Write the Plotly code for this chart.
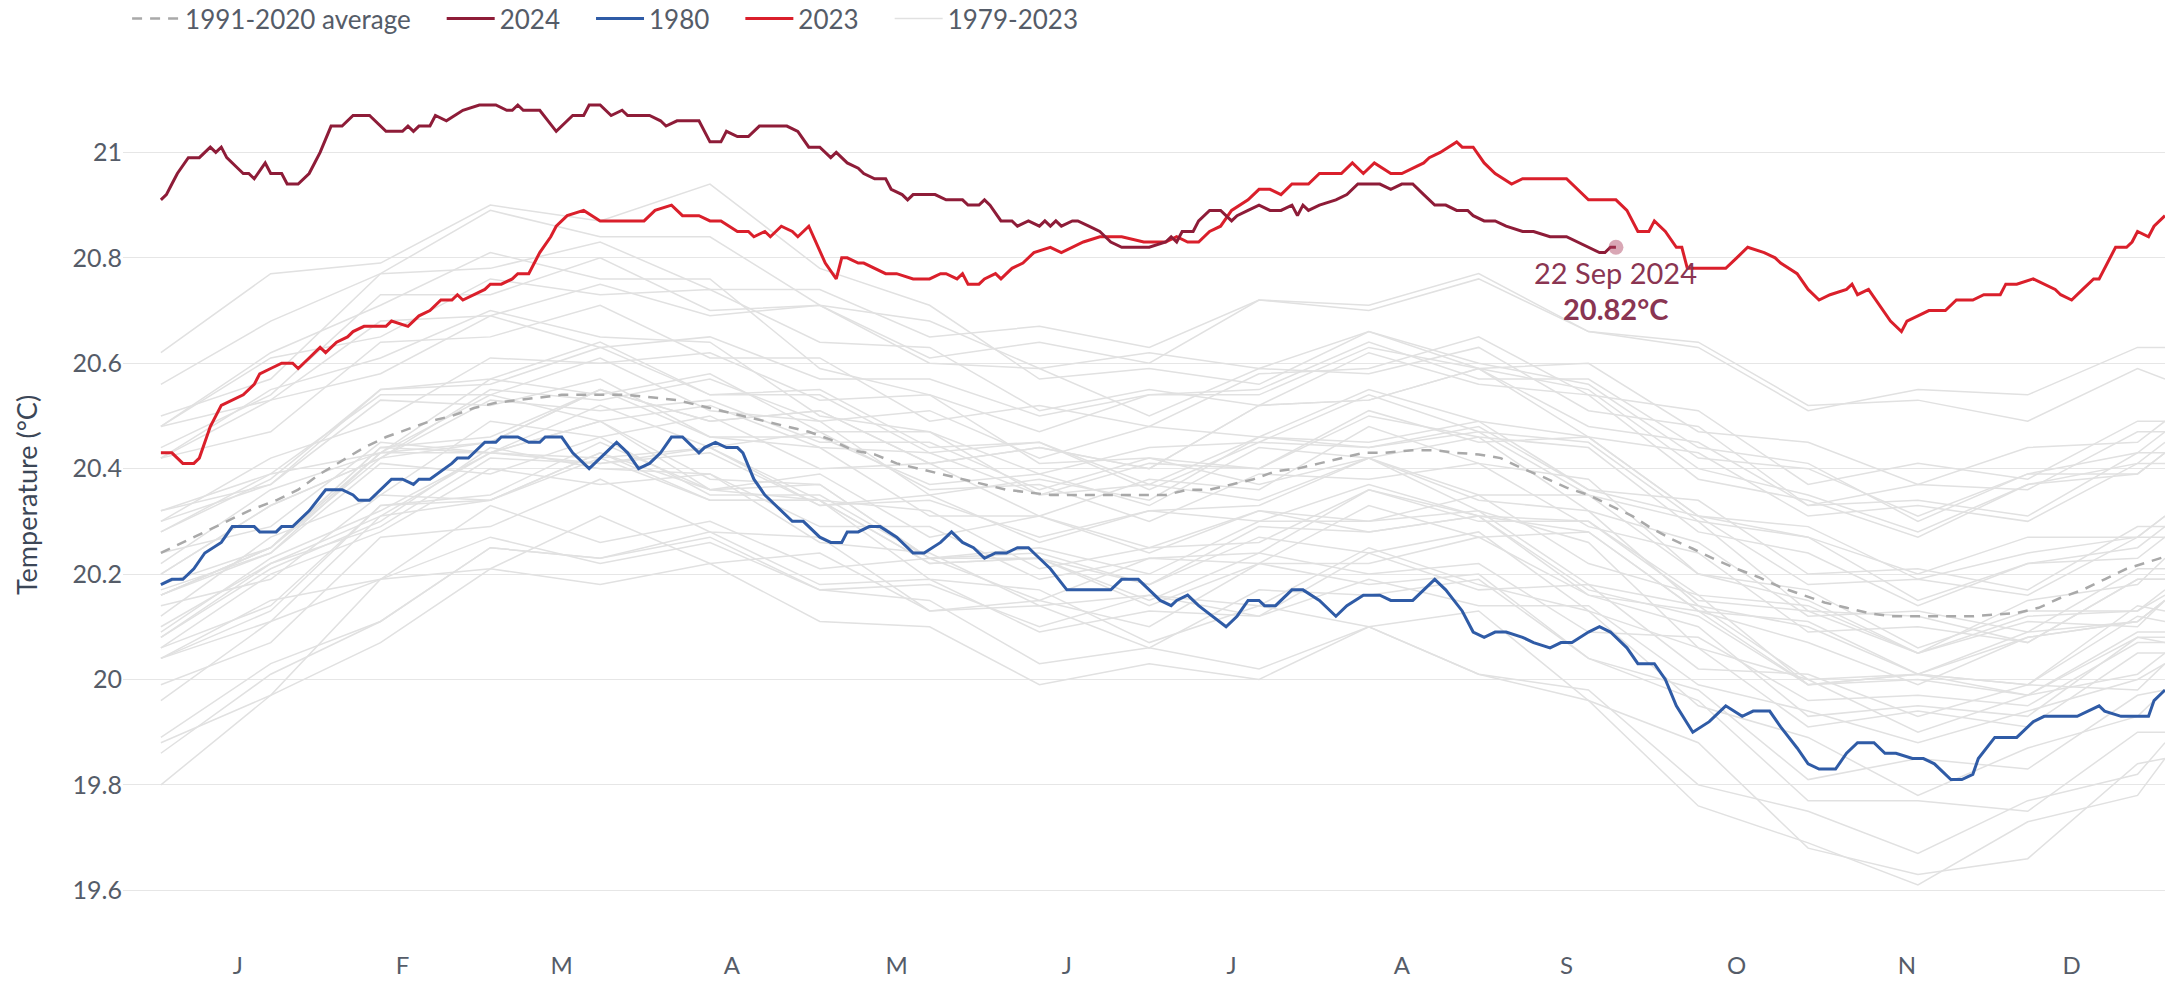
import plotly.graph_objects as go

# ---------------- data ----------------
month_ticks = [14, 44, 73, 104, 134, 165, 195, 226, 256, 287, 318, 348]
month_labels = ["J", "F", "M", "A", "M", "J", "J", "A", "S", "O", "N", "D"]
y_ticks = [19.6, 19.8, 20.0, 20.2, 20.4, 20.6, 20.8, 21.0]
y_labels = ["19.6", "19.8", "20", "20.2", "20.4", "20.6", "20.8", "21"]

days_2024 = [0, 1, 2, 3, 5, 7, 9, 10, 11, 12, 14, 15, 16, 17, 19, 20, 22, 23, 25, 27, 28, 29, 31, 33, 35, 38,
             41, 44, 45, 46, 47, 49, 50, 52, 55, 58, 61, 63, 64, 65, 66, 69, 72, 75, 77, 78, 80, 82, 84, 85,
             89, 91, 92, 94, 98, 100, 102, 103, 105, 107, 109, 111, 114, 116, 118, 120, 122, 123, 125, 127,
             128, 130, 132, 133, 135, 136, 137, 141, 143, 146, 147, 149, 150, 151, 153, 155, 156, 158, 160,
             161, 162, 163, 164, 166, 167, 169, 171, 172, 173, 175, 180, 183, 184, 185, 186, 188, 189, 191,
             193, 195, 196, 198, 200, 202, 204, 206, 207, 208, 209, 211, 214, 216, 218, 222, 224, 226, 228,
             230, 232, 234, 236, 238, 239, 241, 243, 245, 248, 250, 253, 256, 258, 260, 262, 263, 264, 265]
temp_2024 = [20.91, 20.92, 20.94, 20.96, 20.99, 20.99, 21.01, 21.00, 21.01, 20.99, 20.97, 20.96, 20.96, 20.95,
             20.98, 20.96, 20.96, 20.94, 20.94, 20.96, 20.98, 21.00, 21.05, 21.05, 21.07, 21.07, 21.04, 21.04,
             21.05, 21.04, 21.05, 21.05, 21.07, 21.06, 21.08, 21.09, 21.09, 21.08, 21.08, 21.09, 21.08, 21.08,
             21.04, 21.07, 21.07, 21.09, 21.09, 21.07, 21.08, 21.07, 21.07, 21.06, 21.05, 21.06, 21.06, 21.02,
             21.02, 21.04, 21.03, 21.03, 21.05, 21.05, 21.05, 21.04, 21.01, 21.01, 20.99, 21.00, 20.98, 20.97,
             20.96, 20.95, 20.95, 20.93, 20.92, 20.91, 20.92, 20.92, 20.91, 20.91, 20.90, 20.90, 20.91, 20.90,
             20.87, 20.87, 20.86, 20.87, 20.86, 20.87, 20.86, 20.87, 20.86, 20.87, 20.87, 20.86, 20.85, 20.84,
             20.83, 20.82, 20.82, 20.83, 20.84, 20.83, 20.85, 20.85, 20.87, 20.89, 20.89, 20.87, 20.88, 20.89,
             20.90, 20.89, 20.89, 20.90, 20.88, 20.90, 20.89, 20.90, 20.91, 20.92, 20.94, 20.94, 20.93, 20.94,
             20.94, 20.92, 20.90, 20.90, 20.89, 20.89, 20.88, 20.87, 20.87, 20.86, 20.85, 20.85, 20.84, 20.84,
             20.83, 20.82, 20.81, 20.81, 20.82, 20.82]

days_2023 = [0, 2, 4, 6, 7, 9, 11, 13, 15, 17, 18, 20, 22, 24, 25, 27, 29, 30, 32, 34, 35, 37, 41, 42, 45, 46,
             47, 49, 51, 53, 54, 55, 57, 59, 60, 62, 64, 65, 67, 69, 71, 72, 74, 77, 80, 88, 90, 93, 95, 98,
             100, 102, 105, 107, 108, 110, 111, 113, 115, 116, 118, 121, 123, 124, 125, 127, 128, 130, 132,
             134, 137, 140, 142, 143, 145, 146, 147, 149, 150, 152, 153, 155, 157, 159, 162, 164, 166, 168,
             171, 175, 179, 183, 185, 187, 189, 191, 193, 195, 198, 200, 202, 204, 206, 209, 211, 215, 217,
             219, 221, 224, 226, 228, 230, 231, 233, 236, 237, 239, 241, 243, 246, 248, 250, 253, 256, 260,
             265, 267, 269, 271, 272, 274, 276, 277, 278, 282, 285, 287, 289, 292, 294, 295, 298, 300, 302,
             304, 307, 308, 309, 311, 313, 315, 317, 318, 320, 322, 325, 327, 330, 332, 334, 335, 336, 338,
             341, 343, 345, 346, 348, 350, 352, 353, 356, 358, 359, 360, 362, 363, 365]
temp_2023 = [20.43, 20.43, 20.41, 20.41, 20.42, 20.48, 20.52, 20.53, 20.54, 20.56, 20.58, 20.59, 20.60, 20.60,
             20.59, 20.61, 20.63, 20.62, 20.64, 20.65, 20.66, 20.67, 20.67, 20.68, 20.67, 20.68, 20.69, 20.70,
             20.72, 20.72, 20.73, 20.72, 20.73, 20.74, 20.75, 20.75, 20.76, 20.77, 20.77, 20.81, 20.84, 20.86,
             20.88, 20.89, 20.87, 20.87, 20.89, 20.90, 20.88, 20.88, 20.87, 20.87, 20.85, 20.85, 20.84, 20.85,
             20.84, 20.86, 20.85, 20.84, 20.86, 20.79, 20.76, 20.80, 20.80, 20.79, 20.79, 20.78, 20.77, 20.77,
             20.76, 20.76, 20.77, 20.77, 20.76, 20.77, 20.75, 20.75, 20.76, 20.77, 20.76, 20.78, 20.79, 20.81,
             20.82, 20.81, 20.82, 20.83, 20.84, 20.84, 20.83, 20.83, 20.84, 20.83, 20.83, 20.85, 20.86, 20.89,
             20.91, 20.93, 20.93, 20.92, 20.94, 20.94, 20.96, 20.96, 20.98, 20.96, 20.98, 20.96, 20.96, 20.97,
             20.98, 20.99, 21.00, 21.02, 21.01, 21.01, 20.98, 20.96, 20.94, 20.95, 20.95, 20.95, 20.95, 20.91,
             20.91, 20.89, 20.85, 20.85, 20.87, 20.85, 20.82, 20.82, 20.78, 20.78, 20.78, 20.80, 20.82, 20.81,
             20.80, 20.79, 20.77, 20.74, 20.72, 20.73, 20.74, 20.75, 20.73, 20.74, 20.71, 20.68, 20.66, 20.68,
             20.69, 20.70, 20.70, 20.72, 20.72, 20.73, 20.73, 20.73, 20.75, 20.75, 20.76, 20.75, 20.74, 20.73,
             20.72, 20.74, 20.76, 20.76, 20.82, 20.82, 20.83, 20.85, 20.84, 20.86, 20.88]

days_1980 = [0, 2, 4, 6, 8, 11, 13, 17, 18, 21, 22, 24, 27, 30, 33, 35, 36, 38, 42, 44, 46, 47, 49, 53, 54, 56,
             59, 61, 62, 65, 67, 69, 70, 73, 75, 78, 81, 83, 85, 87, 89, 91, 93, 95, 98, 99, 101, 103, 105,
             106, 108, 110, 111, 113, 115, 117, 120, 122, 124, 125, 127, 129, 131, 134, 137, 139, 142, 144,
             146, 148, 150, 152, 154, 156, 158, 159, 162, 165, 173, 175, 178, 180, 182, 184, 185, 187, 189,
             194, 196, 198, 200, 201, 203, 206, 208, 211, 214, 216, 219, 222, 224, 228, 230, 232, 234, 237,
             239, 241, 243, 245, 248, 250, 253, 255, 257, 260, 262, 264, 267, 269, 272, 274, 276, 279, 282,
             285, 288, 290, 293, 295, 298, 300, 302, 305, 307, 309, 312, 314, 316, 319, 321, 323, 326, 328,
             330, 331, 334, 338, 341, 343, 349, 353, 354, 357, 362, 363, 365]
temp_1980 = [20.18, 20.19, 20.19, 20.21, 20.24, 20.26, 20.29, 20.29, 20.28, 20.28, 20.29, 20.29, 20.32, 20.36,
             20.36, 20.35, 20.34, 20.34, 20.38, 20.38, 20.37, 20.38, 20.38, 20.41, 20.42, 20.42, 20.45, 20.45,
             20.46, 20.46, 20.45, 20.45, 20.46, 20.46, 20.43, 20.40, 20.43, 20.45, 20.43, 20.40, 20.41, 20.43,
             20.46, 20.46, 20.43, 20.44, 20.45, 20.44, 20.44, 20.43, 20.38, 20.35, 20.34, 20.32, 20.30, 20.30,
             20.27, 20.26, 20.26, 20.28, 20.28, 20.29, 20.29, 20.27, 20.24, 20.24, 20.26, 20.28, 20.26, 20.25,
             20.23, 20.24, 20.24, 20.25, 20.25, 20.24, 20.21, 20.17, 20.17, 20.19, 20.19, 20.17, 20.15, 20.14,
             20.15, 20.16, 20.14, 20.10, 20.12, 20.15, 20.15, 20.14, 20.14, 20.17, 20.17, 20.15, 20.12, 20.14,
             20.16, 20.16, 20.15, 20.15, 20.17, 20.19, 20.17, 20.13, 20.09, 20.08, 20.09, 20.09, 20.08, 20.07,
             20.06, 20.07, 20.07, 20.09, 20.10, 20.09, 20.06, 20.03, 20.03, 20.00, 19.95, 19.90, 19.92, 19.95,
             19.93, 19.94, 19.94, 19.91, 19.87, 19.84, 19.83, 19.83, 19.86, 19.88, 19.88, 19.86, 19.86, 19.85,
             19.85, 19.84, 19.81, 19.81, 19.82, 19.85, 19.89, 19.89, 19.92, 19.93, 19.93, 19.95, 19.94, 19.93,
             19.93, 19.96, 19.98]

days_avg = [0, 4, 8, 12, 16, 21, 25, 29, 33, 37, 41, 45, 49, 53, 57, 61, 65, 69, 73, 85, 90, 94, 98, 102, 106,
            110, 114, 118, 122, 126, 130, 134, 138, 142, 146, 150, 154, 158, 162, 183, 187, 191, 195, 199, 203,
            207, 211, 215, 219, 223, 228, 232, 236, 240, 244, 248, 252, 256, 260, 264, 268, 271, 275, 279, 283,
            287, 291, 295, 299, 303, 307, 311, 315, 330, 338, 342, 346, 350, 354, 358, 362, 365]
temp_avg = [20.24, 20.26, 20.28, 20.30, 20.32, 20.34, 20.36, 20.39, 20.415, 20.44, 20.46, 20.475, 20.49, 20.50,
            20.515, 20.525, 20.53, 20.535, 20.54, 20.54, 20.535, 20.53, 20.52, 20.51, 20.50, 20.49, 20.48, 20.47,
            20.455, 20.435, 20.427, 20.41, 20.40, 20.39, 20.38, 20.37, 20.36, 20.355, 20.35, 20.35, 20.36, 20.36,
            20.37, 20.38, 20.395, 20.40, 20.41, 20.42, 20.43, 20.43, 20.435, 20.435, 20.43, 20.427, 20.42, 20.40,
            20.383, 20.364, 20.35, 20.33, 20.31, 20.29, 20.267, 20.248, 20.228, 20.21, 20.194, 20.175, 20.16,
            20.146, 20.136, 20.126, 20.12, 20.12, 20.126, 20.136, 20.155, 20.17, 20.19, 20.21, 20.223, 20.233]

# 1979-2023 background years, sampled roughly every 20 days
grey_days = [0, 20, 40, 60, 80, 100, 120, 140, 160, 180, 200, 220, 240, 260, 280, 300, 320, 340, 360, 365]
y1979 = [20.04, 20.15, 20.19, 20.27, 20.22, 20.26, 20.17, 20.18, 20.10, 20.16, 20.14, 20.25, 20.18, 20.13, 19.95, 19.89, 19.78, 19.87, 19.93, 19.98]
y1981 = [19.99, 20.07, 20.27, 20.29, 20.38, 20.28, 20.27, 20.13, 20.14, 20.06, 20.17, 20.16, 20.19, 20.04, 19.98, 19.81, 19.85, 19.83, 19.97, 19.98]
y1982 = [19.96, 20.11, 20.19, 20.33, 20.26, 20.30, 20.21, 20.23, 20.15, 20.23, 20.24, 20.36, 20.31, 20.30, 20.16, 20.14, 20.05, 20.15, 20.18, 20.23]
y1983 = [20.24, 20.29, 20.45, 20.43, 20.49, 20.38, 20.37, 20.23, 20.23, 20.14, 20.22, 20.18, 20.20, 20.04, 19.96, 19.77, 19.77, 19.75, 19.90, 19.90]
y1984 = [19.89, 20.03, 20.11, 20.25, 20.23, 20.27, 20.17, 20.15, 20.03, 20.06, 20.02, 20.10, 20.01, 19.96, 19.76, 19.69, 19.61, 19.73, 19.78, 19.85]
y1985 = [19.80, 19.97, 20.07, 20.21, 20.18, 20.22, 20.11, 20.10, 19.99, 20.03, 20.00, 20.10, 20.01, 19.98, 19.80, 19.75, 19.67, 19.77, 19.82, 19.88]
y1986 = [19.88, 19.97, 20.19, 20.21, 20.31, 20.22, 20.24, 20.13, 20.15, 20.10, 20.22, 20.22, 20.27, 20.16, 20.13, 19.99, 20.01, 19.99, 20.12, 20.11]
y1987 = [20.12, 20.27, 20.35, 20.49, 20.46, 20.50, 20.40, 20.41, 20.31, 20.38, 20.36, 20.48, 20.41, 20.38, 20.20, 20.15, 20.05, 20.11, 20.10, 20.15]
y1988 = [20.16, 20.25, 20.44, 20.43, 20.49, 20.36, 20.34, 20.19, 20.17, 20.07, 20.14, 20.10, 20.13, 19.96, 19.88, 19.68, 19.63, 19.66, 19.84, 19.85]
y1989 = [19.86, 20.01, 20.11, 20.25, 20.23, 20.28, 20.18, 20.19, 20.09, 20.13, 20.12, 20.24, 20.17, 20.18, 20.02, 20.01, 19.93, 19.99, 19.98, 20.03]
y1990 = [20.04, 20.13, 20.33, 20.35, 20.45, 20.36, 20.37, 20.23, 20.25, 20.20, 20.30, 20.30, 20.35, 20.22, 20.16, 19.99, 20.01, 19.99, 20.14, 20.13]
y1991 = [20.14, 20.19, 20.35, 20.34, 20.43, 20.36, 20.39, 20.27, 20.31, 20.24, 20.32, 20.28, 20.31, 20.16, 20.10, 19.93, 19.95, 19.93, 20.08, 20.07]
y1992 = [20.08, 20.21, 20.30, 20.44, 20.40, 20.39, 20.26, 20.24, 20.14, 20.16, 20.12, 20.19, 20.14, 20.14, 19.99, 19.94, 19.88, 19.94, 20.00, 20.03]
y1993 = [20.04, 20.11, 20.31, 20.34, 20.43, 20.34, 20.34, 20.22, 20.23, 20.15, 20.24, 20.20, 20.22, 20.09, 20.08, 19.96, 19.97, 19.95, 20.07, 20.07]
y1994 = [20.08, 20.22, 20.29, 20.42, 20.41, 20.44, 20.34, 20.32, 20.21, 20.25, 20.26, 20.36, 20.30, 20.30, 20.15, 20.13, 20.05, 20.12, 20.13, 20.16]
y1995 = [20.17, 20.24, 20.41, 20.39, 20.46, 20.35, 20.35, 20.23, 20.24, 20.18, 20.27, 20.24, 20.28, 20.13, 20.06, 19.91, 19.94, 19.91, 20.05, 20.05]
y1996 = [20.06, 20.20, 20.28, 20.40, 20.37, 20.39, 20.29, 20.29, 20.19, 20.23, 20.22, 20.33, 20.27, 20.28, 20.13, 20.11, 20.01, 20.08, 20.11, 20.15]
y1997 = [20.16, 20.25, 20.43, 20.45, 20.55, 20.49, 20.51, 20.41, 20.44, 20.40, 20.52, 20.53, 20.59, 20.48, 20.45, 20.33, 20.37, 20.36, 20.47, 20.47]
y1998 = [20.48, 20.62, 20.71, 20.81, 20.76, 20.76, 20.59, 20.54, 20.41, 20.42, 20.37, 20.42, 20.32, 20.26, 20.06, 20.00, 19.90, 19.97, 20.01, 20.05]
y1999 = [20.06, 20.14, 20.33, 20.34, 20.42, 20.34, 20.34, 20.22, 20.23, 20.18, 20.29, 20.28, 20.31, 20.17, 20.12, 19.99, 20.00, 19.97, 20.08, 20.08]
y2000 = [20.09, 20.23, 20.32, 20.43, 20.41, 20.43, 20.33, 20.35, 20.26, 20.32, 20.30, 20.37, 20.31, 20.28, 20.13, 20.07, 19.99, 20.08, 20.11, 20.15]
y2001 = [20.16, 20.25, 20.44, 20.46, 20.55, 20.46, 20.46, 20.37, 20.39, 20.33, 20.44, 20.42, 20.46, 20.32, 20.26, 20.12, 20.13, 20.09, 20.21, 20.21]
y2002 = [20.22, 20.36, 20.43, 20.57, 20.54, 20.58, 20.47, 20.47, 20.39, 20.44, 20.45, 20.54, 20.47, 20.45, 20.30, 20.27, 20.20, 20.27, 20.27, 20.31]
y2003 = [20.32, 20.39, 20.54, 20.54, 20.61, 20.51, 20.49, 20.35, 20.38, 20.34, 20.46, 20.45, 20.49, 20.36, 20.31, 20.18, 20.19, 20.16, 20.27, 20.27]
y2004 = [20.28, 20.39, 20.43, 20.54, 20.49, 20.52, 20.44, 20.43, 20.35, 20.41, 20.40, 20.50, 20.46, 20.44, 20.28, 20.24, 20.14, 20.22, 20.23, 20.27]
y2005 = [20.28, 20.38, 20.55, 20.57, 20.64, 20.54, 20.55, 20.44, 20.45, 20.36, 20.45, 20.44, 20.47, 20.35, 20.30, 20.13, 20.12, 20.07, 20.19, 20.19]
y2006 = [20.20, 20.33, 20.42, 20.53, 20.51, 20.53, 20.45, 20.45, 20.36, 20.42, 20.40, 20.51, 20.45, 20.46, 20.31, 20.29, 20.19, 20.24, 20.27, 20.31]
y2007 = [20.32, 20.37, 20.53, 20.52, 20.57, 20.46, 20.44, 20.31, 20.31, 20.25, 20.32, 20.30, 20.32, 20.18, 20.14, 20.00, 20.01, 19.97, 20.09, 20.09]
y2008 = [20.10, 20.22, 20.31, 20.43, 20.42, 20.44, 20.33, 20.34, 20.27, 20.32, 20.33, 20.42, 20.35, 20.35, 20.20, 20.17, 20.06, 20.13, 20.13, 20.17]
y2009 = [20.18, 20.25, 20.42, 20.45, 20.55, 20.49, 20.51, 20.41, 20.44, 20.40, 20.52, 20.53, 20.59, 20.46, 20.43, 20.31, 20.33, 20.30, 20.41, 20.41]
y2010 = [20.42, 20.55, 20.61, 20.70, 20.65, 20.64, 20.50, 20.47, 20.35, 20.37, 20.34, 20.42, 20.34, 20.32, 20.14, 20.10, 20.01, 20.09, 20.11, 20.15]
y2011 = [20.16, 20.24, 20.43, 20.43, 20.52, 20.44, 20.47, 20.36, 20.37, 20.30, 20.39, 20.38, 20.41, 20.29, 20.24, 20.09, 20.10, 20.07, 20.19, 20.19]
y2012 = [20.20, 20.33, 20.42, 20.55, 20.53, 20.57, 20.49, 20.51, 20.42, 20.48, 20.46, 20.55, 20.49, 20.46, 20.31, 20.27, 20.15, 20.22, 20.25, 20.29]
y2013 = [20.30, 20.37, 20.55, 20.56, 20.63, 20.54, 20.54, 20.43, 20.45, 20.37, 20.46, 20.44, 20.48, 20.36, 20.34, 20.20, 20.21, 20.17, 20.29, 20.29]
y2014 = [20.30, 20.42, 20.49, 20.61, 20.60, 20.62, 20.53, 20.54, 20.47, 20.54, 20.55, 20.64, 20.57, 20.57, 20.44, 20.41, 20.30, 20.39, 20.43, 20.47]
y2015 = [20.48, 20.53, 20.68, 20.69, 20.75, 20.69, 20.71, 20.61, 20.64, 20.60, 20.72, 20.71, 20.77, 20.66, 20.63, 20.51, 20.55, 20.54, 20.63, 20.63]
y2016 = [20.62, 20.77, 20.79, 20.90, 20.87, 20.94, 20.78, 20.71, 20.57, 20.59, 20.56, 20.66, 20.60, 20.56, 20.42, 20.40, 20.31, 20.39, 20.39, 20.43]
y2017 = [20.44, 20.54, 20.73, 20.73, 20.80, 20.70, 20.71, 20.60, 20.59, 20.50, 20.59, 20.58, 20.63, 20.51, 20.48, 20.33, 20.34, 20.31, 20.43, 20.43]
y2018 = [20.42, 20.53, 20.58, 20.69, 20.63, 20.65, 20.57, 20.57, 20.50, 20.54, 20.54, 20.63, 20.59, 20.60, 20.47, 20.45, 20.37, 20.44, 20.45, 20.49]
y2019 = [20.50, 20.57, 20.77, 20.78, 20.83, 20.74, 20.74, 20.65, 20.67, 20.63, 20.72, 20.70, 20.76, 20.66, 20.64, 20.52, 20.53, 20.49, 20.59, 20.57]
y2020 = [20.56, 20.68, 20.77, 20.89, 20.84, 20.84, 20.71, 20.68, 20.59, 20.62, 20.59, 20.66, 20.59, 20.55, 20.40, 20.35, 20.28, 20.37, 20.39, 20.43]
y2021 = [20.42, 20.47, 20.64, 20.65, 20.71, 20.61, 20.61, 20.49, 20.52, 20.48, 20.58, 20.59, 20.65, 20.54, 20.51, 20.37, 20.41, 20.38, 20.49, 20.49]
y2022 = [20.48, 20.61, 20.65, 20.76, 20.73, 20.74, 20.64, 20.63, 20.51, 20.55, 20.52, 20.62, 20.56, 20.54, 20.38, 20.34, 20.27, 20.37, 20.41, 20.45]

grey_series = [y1979, y1981, y1982, y1983, y1984, y1985, y1986, y1987, y1988, y1989, y1990,
               y1991, y1992, y1993, y1994, y1995, y1996, y1997, y1998, y1999, y2000, y2001,
               y2002, y2003, y2004, y2005, y2006, y2007, y2008, y2009, y2010, y2011, y2012,
               y2013, y2014, y2015, y2016, y2017, y2018, y2019, y2020, y2021, y2022]

last_label = "22 Sep 2024"

# ---------------- figure ----------------
FONT = "Lato, 'Open Sans', sans-serif"
C2024 = "#8e1c38"
C2023 = "#da1f2b"
C1980 = "#2f5ba6"
CAVG = "#a9a9a9"
CGREY = "#e1e1e1"
CTEXT = "#555c68"
GAP = "\u2003\u2009\u2009"   # extra spacing after legend entries (reference uses longer symbols)

fig = go.Figure()

for i, vals in enumerate(grey_series):
    fig.add_trace(go.Scatter(
        x=grey_days, y=vals, mode="lines",
        line=dict(color=CGREY, width=1.5),
        name="1979-2023", legendgroup="grey", showlegend=(i == 0),
        legendrank=5, hoverinfo="skip"))

fig.add_trace(go.Scatter(x=days_avg, y=temp_avg, mode="lines",
                         line=dict(color=CAVG, width=2.5, dash="10px,8px"),
                         name="1991-2020 average" + GAP, legendrank=1))
fig.add_trace(go.Scatter(x=days_1980, y=temp_1980, mode="lines",
                         line=dict(color=C1980, width=3), name="1980" + GAP, legendrank=3))
fig.add_trace(go.Scatter(x=days_2023, y=temp_2023, mode="lines",
                         line=dict(color=C2023, width=3), name="2023" + GAP, legendrank=4))
fig.add_trace(go.Scatter(x=days_2024, y=temp_2024, mode="lines",
                         line=dict(color=C2024, width=3), name="2024" + GAP, legendrank=2))
fig.add_trace(go.Scatter(x=[days_2024[-1]], y=[temp_2024[-1]], mode="markers",
                         marker=dict(size=15, color="rgba(170,60,90,0.45)"),
                         showlegend=False, hoverinfo="skip"))

fig.add_annotation(x=days_2024[-1], y=temp_2024[-1], text=last_label, showarrow=False,
                   xanchor="center", yanchor="middle", yshift=-25,
                   font=dict(family=FONT, size=29, color="#8a3552"))
fig.add_annotation(x=days_2024[-1], y=temp_2024[-1], text="<b>%.2f°C</b>" % temp_2024[-1],
                   showarrow=False, xanchor="center", yanchor="middle", yshift=-61,
                   font=dict(family=FONT, size=29, color="#8a3552"))

fig.update_layout(
    template="none",
    width=2177, height=983,
    margin=dict(l=123, r=12, t=47, b=40),
    paper_bgcolor="white", plot_bgcolor="white",
    font=dict(family=FONT, size=25, color=CTEXT),
    showlegend=True,
    legend=dict(orientation="h", x=0.002, xanchor="left", xref="paper",
                y=0.981, yanchor="middle", yref="container",
                font=dict(family=FONT, size=26, color=CTEXT),
                itemwidth=48, bgcolor="rgba(0,0,0,0)", traceorder="normal"),
    hovermode=False,
)
fig.update_xaxes(range=[-6.9, 365], tickvals=month_ticks, ticktext=month_labels,
                 showgrid=False, zeroline=False, showline=False,
                 ticks="outside", ticklen=1, tickcolor="rgba(0,0,0,0)",
                 tickfont=dict(family=FONT, size=24, color=CTEXT))
fig.update_yaxes(range=[19.5, 21.2], tickvals=y_ticks, ticktext=y_labels,
                 showgrid=True, gridcolor="#e6e6e6", gridwidth=1.2, zeroline=False, showline=False,
                 tickfont=dict(family=FONT, size=25, color=CTEXT),
                 title=dict(text="Temperature (°C)", standoff=27,
                            font=dict(family=FONT, size=27, color="#3c4757")))

fig.write_html("out.html", config={"displayModeBar": False},
               post_script="document.body.style.margin='0';document.body.style.overflow='hidden';")
